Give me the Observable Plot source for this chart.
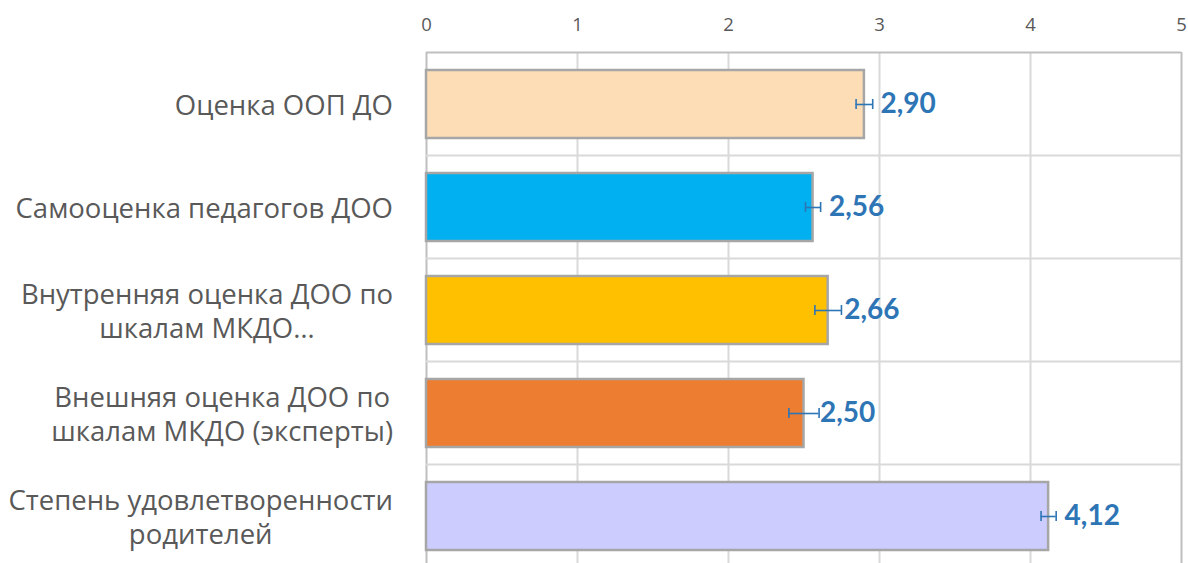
<!DOCTYPE html>
<html>
<head>
<meta charset="utf-8">
<script src="https://cdn.jsdelivr.net/npm/d3@7"></script>
<script src="https://cdn.jsdelivr.net/npm/@observablehq/plot@0.6"></script>
<style>
  html, body { margin: 0; padding: 0; background: #fff; overflow: hidden; }
  #chart svg { display: block; overflow: visible; }
</style>
</head>
<body>
<div id="chart"></div>
<script>
const categories = [
  "Оценка ООП ДО",
  "Самооценка педагогов ДОО",
  "Внутренняя оценка ДОО по\nшкалам МКДО…",
  "Внешняя оценка ДОО по\nшкалам МКДО (эксперты)",
  "Степень удовлетворенности\nродителей"
];
const values = [2.90, 2.56, 2.66, 2.50, 4.12];
const errors = [0.055, 0.05, 0.088, 0.10, 0.05];
const colors = ["#FCDDB6", "#00B0F0", "#FFC000", "#ED7D31", "#CCCCFF"];
const xTicks = [0, 1, 2, 3, 4, 5];
const innerGrid = [1, 2, 3, 4];
const frameLines = [0, 5];

const data = categories.map((c, i) => ({
  cat: c,
  value: values[i],
  lo: values[i] - errors[i],
  hi: values[i] + errors[i],
  color: colors[i],
  label: d3.format(".2f")(values[i]).replace(".", ",")
}));

// horizontal band boundary lines computed from the band scale
function bandLines(index, scales, values, dimensions) {
  const y = scales.y;
  const step = y.step(), bw = y.bandwidth();
  const g = d3.create("svg:g");
  const xs = [dimensions.marginLeft, dimensions.width - dimensions.marginRight];
  y.domain().forEach((d, i) => {
    const top = y(d) - (step - bw) / 2;
    g.append("line")
      .attr("x1", xs[0]).attr("x2", xs[1])
      .attr("y1", top).attr("y2", top)
      .attr("stroke", i === 0 ? "#bfbfbf" : "#d9d9d9")
      .attr("stroke-width", 2);
  });
  return g.node();
}

const chart = Plot.plot({
  width: 1188,
  height: 563,
  marginLeft: 426,
  marginRight: 7,
  marginTop: 52,
  marginBottom: 0,
  style: { fontFamily: "'Open Sans', sans-serif", background: "#fff" },
  x: { domain: [0, 5], label: null },
  y: { domain: categories, range: [52, 567], paddingInner: 0.34, paddingOuter: 0.17, label: null, axis: null },
  marks: [
    Plot.ruleX(innerGrid, { stroke: "#d9d9d9", strokeWidth: 2 }),
    Plot.ruleX(frameLines, { stroke: "#bfbfbf", strokeWidth: 2 }),
    bandLines,
    Plot.axisX(xTicks, {
      anchor: "top", tickSize: 0, tickPadding: 22, fontSize: 18.5,
      color: "#595959", tickFormat: d => String(d)
    }),
    Plot.barX(data, {
      x: "value", y: "cat", fill: "color",
      stroke: "#a6a6a6", strokeWidth: 2.5
    }),
    Plot.ruleY(data, { y: "cat", x1: "lo", x2: "hi", stroke: "#2e75b6", strokeWidth: 1.6 }),
    Plot.tickX(data, { x: "lo", y: "cat", stroke: "#2e75b6", strokeWidth: 1.6, insetTop: 29, insetBottom: 29 }),
    Plot.tickX(data, { x: "hi", y: "cat", stroke: "#2e75b6", strokeWidth: 1.6, insetTop: 29, insetBottom: 29 }),
    Plot.text(data, {
      x: "value", y: "cat", text: "label", dx: 16, textAnchor: "start",
      fill: "#2e75b6", fontWeight: "bold", fontSize: 28, fontFamily: "Lato, sans-serif"
    }),
    Plot.text(data, {
      x: 0, y: "cat", text: "cat", textAnchor: "middle", lineAnchor: "middle",
      lineHeight: 1.22, fill: "#595959", fontSize: 27.5, className: "catlabel"
    })
  ]
});

document.getElementById("chart").appendChild(chart);

// right-align each label block at x = 393 while keeping its lines centered within the block
const rightEdge = 393;
const svgLeft = chart.getBoundingClientRect().left;
chart.querySelectorAll("g.catlabel text").forEach(t => {
  const r = t.getBoundingClientRect();
  const shift = rightEdge - (r.right - svgLeft);
  const prev = t.getAttribute("transform") || "";
  t.setAttribute("transform", prev + ` translate(${shift},0)`);
});
</script>
</body>
</html>
